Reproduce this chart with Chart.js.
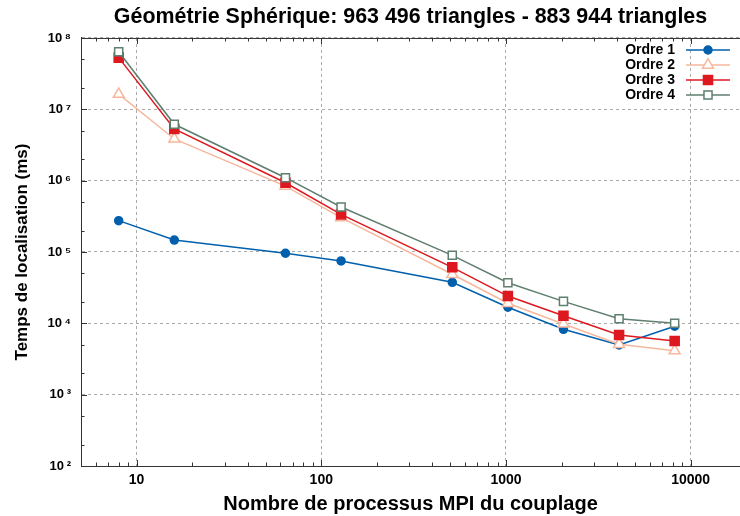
<!DOCTYPE html>
<html>
<head>
<meta charset="utf-8">
<script src="https://cdn.jsdelivr.net/npm/chart.js@4/dist/chart.umd.min.js"></script>
<style>
html,body{margin:0;padding:0;background:#fff;overflow:hidden;}
</style>
</head>
<body>
<canvas id="c" width="740" height="516"></canvas>
<script>
// ---- data ----
const processes = [8, 16, 64, 128, 512, 1024, 2048, 4096, 8192];
const ordre1 = [2.75e5, 1.47e5, 9.6e4, 7.5e4, 3.76e4, 1.68e4, 8.25e3, 4.97e3, 9.1e3];
const ordre2 = [1.63e7, 3.84e6, 8.4e5, 3.03e5, 4.87e4, 1.91e4, 9.8e3, 5.08e3, 4.13e3];
const ordre3 = [5.3e7, 5.3e6, 9.35e5, 3.37e5, 6.1e4, 2.41e4, 1.28e4, 6.85e3, 5.65e3];
const ordre4 = [6.4e7, 6.17e6, 1.1e6, 4.27e5, 8.98e4, 3.7e4, 2.03e4, 1.16e4, 1.0e4];
const seriesNames = ['Ordre 1', 'Ordre 2', 'Ordre 3', 'Ordre 4'];
const xTicks = [10, 100, 1000, 10000];
const yTicks = [1e2, 1e3, 1e4, 1e5, 1e6, 1e7, 1e8];
const yExp = ['²', '³', '⁴', '⁵', '⁶', '⁷', '⁸'];
const titleText = 'Géométrie Sphérique: 963 496 triangles - 883 944 triangles';
const xTitle = 'Nombre de processus MPI du couplage';
const yTitle = 'Temps de localisation (ms)';

const FONT = '"Liberation Sans", Arial, Helvetica, sans-serif';
const toXY = arr => arr.map((v, i) => ({x: processes[i], y: v}));

const styles = [
  {color: '#0060ad', pointStyle: 'circle', radius: 4, fill: '#0060ad', order: 3},
  {color: '#f6b79d', pointStyle: 'triangle', radius: 6.3, fill: '#ffffff', order: 2},
  {color: '#dd181f', pointStyle: 'rect', radius: 6.4, fill: '#dd181f', order: 1},
  {color: '#5f7f6f', pointStyle: 'rect', radius: 5.7, fill: '#ffffff', order: 0}
];
const seriesData = [ordre1, ordre2, ordre3, ordre4];

const datasets = seriesData.map((d, i) => ({
  label: seriesNames[i],
  data: toXY(d),
  borderColor: styles[i].color,
  backgroundColor: styles[i].fill,
  pointBackgroundColor: styles[i].fill,
  pointBorderColor: styles[i].color,
  pointBorderWidth: 1.5,
  pointStyle: styles[i].pointStyle,
  pointRadius: styles[i].radius,
  pointHoverRadius: styles[i].radius,
  borderWidth: 1.5,
  tension: 0,
  fill: false,
  order: styles[i].order
}));

const decor = {
  id: 'decor',
  beforeDatasetsDraw(chart) {
    const {ctx, chartArea: a, scales: {x, y}} = chart;
    ctx.save();
    ctx.strokeStyle = '#333333';
    ctx.lineWidth = 1;
    ctx.beginPath();
    ctx.moveTo(a.left, a.top + 0.5); ctx.lineTo(a.right, a.top + 0.5);
    for (let e = 0; e <= 4; e++) {
      for (let m = 1; m <= 9; m++) {
        const v = m * Math.pow(10, e);
        if (v < x.min || v > x.max) continue;
        const px = Math.round(x.getPixelForValue(v)) + 0.5;
        const len = m === 1 ? 6 : 3.5;
        ctx.moveTo(px, a.bottom); ctx.lineTo(px, a.bottom - len);
        ctx.moveTo(px, a.top); ctx.lineTo(px, a.top + len);
      }
    }
    for (let e = 2; e <= 8; e++) {
      [1, 2, 5].forEach(m => {
        const v = m * Math.pow(10, e);
        if (v < y.min || v > y.max) return;
        const py = Math.round(y.getPixelForValue(v)) + 0.5;
        const len = m === 1 ? 6 : 3.5;
        ctx.moveTo(a.left, py); ctx.lineTo(a.left + len, py);
      });
    }
    ctx.stroke();
    ctx.restore();
  },
  afterDraw(chart) {
    const {ctx} = chart;
    ctx.save();
    const rows = [50, 65, 80, 95];
    chart.data.datasets.forEach((ds, i) => {
      const yy = rows[i];
      ctx.font = 'bold 14px ' + FONT;
      ctx.fillStyle = '#000';
      ctx.textAlign = 'right';
      ctx.textBaseline = 'middle';
      ctx.fillText(ds.label, 675, yy);
      ctx.strokeStyle = ds.borderColor;
      ctx.lineWidth = 1.5;
      ctx.beginPath();
      ctx.moveTo(686, yy); ctx.lineTo(730, yy);
      ctx.stroke();
      ctx.fillStyle = ds.pointBackgroundColor;
      ctx.strokeStyle = ds.pointBorderColor;
      ctx.lineWidth = 1.5;
      Chart.helpers.drawPoint(ctx, {pointStyle: ds.pointStyle, radius: ds.pointRadius, rotation: 0, borderWidth: 1.5}, 708, yy);
    });
    ctx.restore();
  }
};

new Chart(document.getElementById('c'), {
  type: 'line',
  data: {datasets},
  options: {
    responsive: false,
    animation: false,
    layout: {autoPadding: false, padding: {left: 0, right: 0, top: 0, bottom: 0}},
    plugins: {
      legend: {display: false},
      tooltip: {enabled: false},
      title: {
        display: true,
        text: titleText,
        fullSize: false,
        color: '#000',
        font: {family: FONT, size: 21.4, weight: 'bold'},
        padding: {top: 4.2, bottom: 8.1}
      }
    },
    scales: {
      x: {
        type: 'logarithmic',
        position: 'bottom',
        min: 5,
        max: 18500,
        afterBuildTicks: s => { s.ticks = xTicks.map(v => ({value: v})); },
        afterFit: s => { s.height = 50; s.paddingLeft = 0; s.paddingRight = 0; },
        ticks: {
          callback: v => String(v),
          color: '#000',
          font: {family: FONT, size: 14, weight: 'bold'},
          padding: 6,
          maxRotation: 0,
          autoSkip: false
        },
        grid: {color: '#aaaaaa', lineWidth: 1, drawTicks: false},
        border: {display: true, color: '#333333', width: 1, dash: [3, 3]},
        title: {
          display: true,
          text: xTitle,
          color: '#000',
          font: {family: FONT, size: 20, weight: 'bold'},
          padding: {top: 0, bottom: 0}
        }
      },
      y: {
        type: 'logarithmic',
        position: 'left',
        min: 100,
        max: 1e8,
        afterBuildTicks: s => { s.ticks = yTicks.map(v => ({value: v})); },
        afterFit: s => { s.width = 81; },
        ticks: {
          callback: v => '10\u2009' + yExp[Math.round(Math.log10(v)) - 2],
          color: '#000',
          font: {family: FONT, size: 13, weight: 'bold'},
          padding: 10,
          autoSkip: false
        },
        grid: {color: '#aaaaaa', lineWidth: 1, drawTicks: false},
        border: {display: true, color: '#333333', width: 1, dash: [3, 3]},
        title: {
          display: true,
          text: yTitle,
          color: '#000',
          font: {family: FONT, size: 17, weight: 'bold'},
          padding: {top: 11.8, bottom: 0}
        }
      }
    }
  },
  plugins: [decor]
});
</script>
</body>
</html>
